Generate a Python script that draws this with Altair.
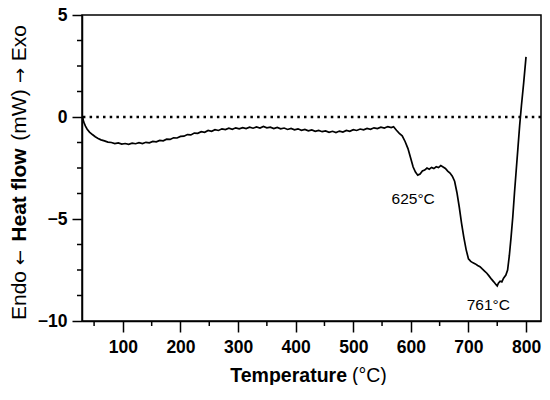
import altair as alt
import pandas as pd

# DSC curve
temps = [30, 32, 35, 38, 42, 47, 52, 57, 62, 68, 74, 80, 86, 92, 98, 104, 110, 116, 122, 128,
         134, 140, 146, 152, 158, 164, 170, 176, 182, 188, 194, 200, 206, 212, 218, 224, 230,
         236, 242, 248, 254, 260, 266, 272, 278, 284, 290, 296, 302, 308, 314, 320, 326, 332,
         338, 344, 350, 356, 362, 368, 374, 380, 386, 392, 398, 404, 410, 416, 422, 428, 434,
         440, 446, 452, 458, 464, 470, 476, 482, 488, 494, 500, 506, 512, 518, 524, 530, 536,
         542, 548, 554, 560, 566, 570, 575, 580, 585, 590, 595, 600, 604, 608, 612, 616, 620,
         624, 628, 632, 636, 640, 644, 648, 652, 656, 660, 664, 668, 672, 676, 680, 684, 688,
         692, 696, 700, 704, 708, 712, 716, 720, 724, 728, 732, 736, 740, 744, 748, 750, 752,
         755, 758, 761, 765, 768, 771, 774, 777, 780, 783, 786, 789, 792, 796, 800]
heat = [0.0, -0.25, -0.45, -0.6, -0.74, -0.86, -0.97, -1.05, -1.12, -1.17, -1.23, -1.25, -1.30,
        -1.27, -1.33, -1.30, -1.34, -1.28, -1.31, -1.26, -1.30, -1.24, -1.27, -1.20, -1.22,
        -1.15, -1.17, -1.09, -1.10, -1.02, -1.03, -0.95, -0.94, -0.86, -0.88, -0.79, -0.80,
        -0.72, -0.75, -0.66, -0.70, -0.62, -0.66, -0.58, -0.62, -0.55, -0.60, -0.53, -0.58,
        -0.52, -0.57, -0.50, -0.55, -0.49, -0.54, -0.46, -0.53, -0.50, -0.57, -0.51, -0.58,
        -0.54, -0.61, -0.56, -0.63, -0.58, -0.65, -0.61, -0.68, -0.63, -0.70, -0.66, -0.72,
        -0.68, -0.75, -0.70, -0.76, -0.69, -0.74, -0.66, -0.70, -0.62, -0.66, -0.59, -0.63,
        -0.56, -0.60, -0.53, -0.57, -0.50, -0.54, -0.47, -0.52, -0.48, -0.65, -0.80, -0.92,
        -1.20, -1.55, -2.05, -2.45, -2.70, -2.85, -2.80, -2.65, -2.60, -2.50, -2.56, -2.47,
        -2.53, -2.44, -2.48, -2.38, -2.45, -2.52, -2.65, -2.75, -2.90, -3.15, -3.70, -4.40,
        -5.20, -5.90, -6.50, -6.95, -7.08, -7.15, -7.20, -7.28, -7.34, -7.45, -7.55, -7.66,
        -7.80, -7.95, -8.08, -8.22, -8.28, -8.15, -8.05, -8.08, -7.90, -7.75, -7.50, -6.80,
        -5.90, -4.90, -3.70, -2.60, -1.50, -0.40, 0.55, 1.70, 2.95]

x_major = [100, 200, 300, 400, 500, 600, 700, 800]
x_minor = [50, 150, 250, 350, 450, 550, 650, 750]
y_major = [-10, -5, 0, 5]
y_minor = [-8.75, -7.5, -6.25, -3.75, -2.5, -1.25, 1.25, 2.5, 3.75]
x_domain = [29, 826]
y_domain = [-10, 5]

ann_temp = [604, 734.5]
ann_heat = [-4.0, -9.2]
ann_text = ["625°C", "761°C"]

ytitle_parts = ["Endo", "←", "Heat flow", "(mW)", "→", "Exo"]
xtitle_parts = ["Temperature", "(°C)"]

FONT = "Liberation Sans"
W, H = 459, 306

df = pd.DataFrame({"T": temps, "H": heat})
ann_df = pd.DataFrame({"T": ann_temp, "H": ann_heat, "label": ann_text})
zero_df = pd.DataFrame({"H": [0]})
xminor_df = pd.DataFrame({"T": x_minor})
yminor_df = pd.DataFrame({"H": y_minor})

xs = alt.Scale(domain=x_domain, nice=False, zero=False)
ys = alt.Scale(domain=y_domain, nice=False, zero=False)

xaxis = alt.Axis(values=x_major, format="d", title=None, grid=False, tickSize=11,
                 labelPadding=6, labelFlush=False, labelOverlap=False)
yaxis = alt.Axis(values=y_major, format="d", title=None, grid=False, tickSize=10,
                 labelPadding=5, labelFlush=False, labelOverlap=False)

line = alt.Chart(df).mark_line(color="black", strokeWidth=1.7).encode(
    x=alt.X("T:Q", scale=xs, axis=xaxis),
    y=alt.Y("H:Q", scale=ys, axis=yaxis),
)

zero = alt.Chart(zero_df).mark_rule(color="black", strokeWidth=2.5, strokeDash=[2.5, 4.2]).encode(
    y=alt.Y("H:Q", scale=ys)
)

xminor = alt.Chart(xminor_df).mark_rule(color="black", strokeWidth=1.5).encode(
    x=alt.X("T:Q", scale=xs), y=alt.value(H), y2=alt.value(H + 5)
)
yminor = alt.Chart(yminor_df).mark_rule(color="black", strokeWidth=1.5).encode(
    y=alt.Y("H:Q", scale=ys), x=alt.value(0), x2=alt.value(-5)
)

ann = alt.Chart(ann_df).mark_text(font=FONT, fontSize=15.5, color="black", baseline="middle").encode(
    x=alt.X("T:Q", scale=xs), y=alt.Y("H:Q", scale=ys), text="label:N"
)


def txt(s, px, py, font=FONT, **props):
    return alt.Chart(pd.DataFrame({"t": [s]})).mark_text(
        font=font, color="black", **props
    ).encode(x=alt.value(px), y=alt.value(py), text="t:N")


YX = -56
rot = dict(angle=270, baseline="alphabetic")
yt = [
    txt(ytitle_parts[0], YX, 305, align="left", fontSize=21, **rot),
    txt(ytitle_parts[1], YX, 242.5, font="DejaVu Sans", align="center", fontSize=18, **rot),
    txt(ytitle_parts[2], YX, 180, align="center", fontSize=21, fontWeight="bold", **rot),
    txt(ytitle_parts[3], YX, 100, align="center", fontSize=21, **rot),
    txt(ytitle_parts[4], YX, 60.5, font="DejaVu Sans", align="center", fontSize=18, **rot),
    txt(ytitle_parts[5], YX, 10, align="right", fontSize=21, **rot),
]
xt1 = txt(xtitle_parts[0], 265, 367, align="right", baseline="alphabetic", fontSize=19.5,
          fontWeight="bold")
xt2 = txt(xtitle_parts[1], 270, 367, align="left", baseline="alphabetic", fontSize=19.5)

chart = alt.layer(zero, line, xminor, yminor, ann, *yt, xt1, xt2).properties(
    width=W, height=H,
    padding={"left": 74, "top": 7, "right": 1, "bottom": 64},
    autosize=alt.AutoSizeParams(type="none"),
).configure_view(
    stroke="black", strokeWidth=1.5
).configure_axis(
    domainColor="black", domainWidth=1.5, tickColor="black", tickWidth=1.5,
    labelFont=FONT, labelFontSize=17.5, labelFontWeight="bold", labelColor="black",
)

chart.save("out.html", embed_options={"renderer": "svg", "actions": False})
